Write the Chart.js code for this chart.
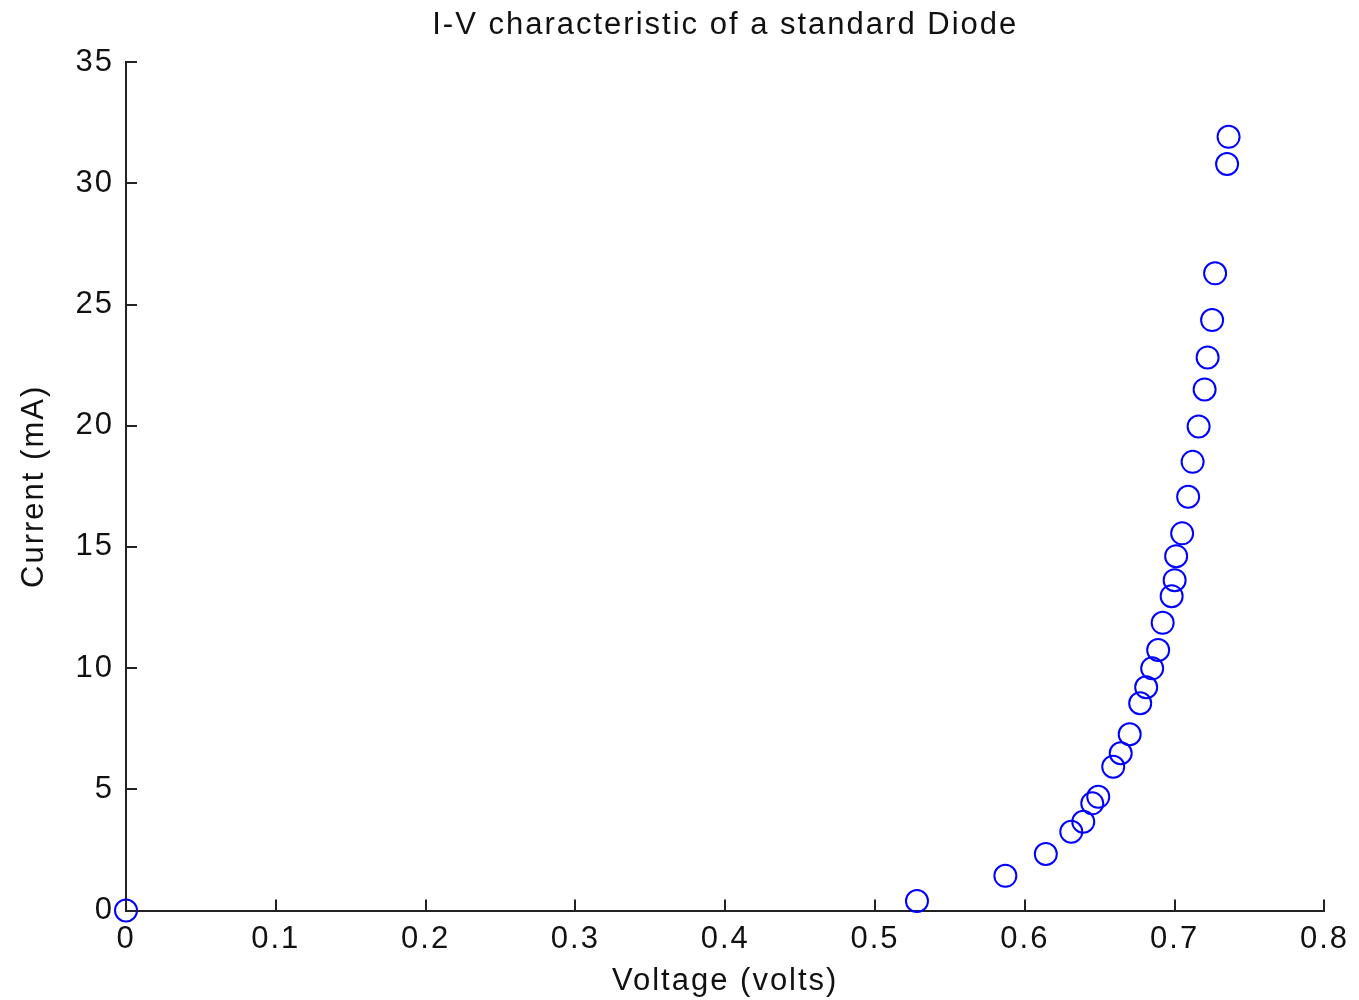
<!DOCTYPE html>
<html>
<head>
<meta charset="utf-8">
<script src="https://cdn.jsdelivr.net/npm/chart.js@4/dist/chart.umd.min.js"></script>
<style>
  html, body { margin: 0; padding: 0; background: #ffffff; }
  #wrap { width: 1359px; height: 1000px; }
</style>
</head>
<body>
<div id="wrap"><canvas id="c" width="1359" height="1000"></canvas></div>
<script>
// Measured diode forward voltage (V) and current (mA)
const voltage = [0, 0.528, 0.587, 0.614, 0.631, 0.639, 0.645, 0.649, 0.659, 0.664,
                 0.670, 0.677, 0.681, 0.685, 0.689, 0.692, 0.698, 0.700, 0.701, 0.705,
                 0.709, 0.712, 0.716, 0.720, 0.722, 0.725, 0.727, 0.735, 0.736];
const current = [0, 0.39, 1.43, 2.33, 3.25, 3.66, 4.42, 4.69, 5.93, 6.49,
                 7.27, 8.55, 9.21, 9.99, 10.75, 11.87, 12.97, 13.63, 14.62, 15.56,
                 17.07, 18.51, 19.97, 21.50, 22.82, 24.36, 26.29, 30.80, 31.92];
const xTicks = [0, 0.1, 0.2, 0.3, 0.4, 0.5, 0.6, 0.7, 0.8];
const yTicks = [0, 5, 10, 15, 20, 25, 30, 35];

const FONT = "'Liberation Sans', Arial, sans-serif";
const AXIS_COLOR = '#222222';
const TEXT_COLOR = '#111111';

// Slightly wider letter spacing for all canvas text
const spacing = {
  id: 'spacing',
  beforeUpdate(chart) { chart.ctx.letterSpacing = '2px'; },
  beforeDraw(chart) { chart.ctx.letterSpacing = '2px'; }
};

// Draws short tick marks pointing into the plot area
const inwardTicks = {
  id: 'inwardTicks',
  afterDraw(chart) {
    const ctx = chart.ctx;
    const xs = chart.scales.x, ys = chart.scales.y;
    const len = 11;
    ctx.save();
    ctx.strokeStyle = AXIS_COLOR;
    ctx.lineWidth = 2;
    ctx.beginPath();
    xTicks.forEach(v => {
      const px = Math.round(xs.getPixelForValue(v));
      ctx.moveTo(px, ys.bottom);
      ctx.lineTo(px, ys.bottom - len);
    });
    yTicks.forEach(v => {
      const py = Math.round(ys.getPixelForValue(v));
      ctx.moveTo(xs.left, py);
      ctx.lineTo(xs.left + len, py);
    });
    ctx.stroke();
    ctx.restore();
  }
};

const data = voltage.map((v, i) => ({ x: v, y: current[i] }));

new Chart(document.getElementById('c'), {
  type: 'scatter',
  data: {
    datasets: [{
      data: data,
      pointStyle: 'circle',
      pointRadius: 11,
      pointHoverRadius: 11,
      pointBorderWidth: 2,
      borderColor: '#0000ff',
      backgroundColor: 'rgba(0,0,0,0)',
      clip: false
    }]
  },
  options: {
    responsive: false,
    animation: false,
    layout: { padding: { top: 0, right: 33, bottom: 0, left: 0 } },
    plugins: {
      legend: { display: false },
      tooltip: { enabled: false },
      title: {
        display: true,
        fullSize: false,
        text: 'I-V characteristic of a standard Diode',
        color: TEXT_COLOR,
        font: { family: FONT, size: 31, weight: 'normal', lineHeight: 1.2 },
        padding: { top: 7, bottom: 18 }
      }
    },
    scales: {
      x: {
        type: 'linear',
        min: 0, max: 0.8,
        afterBuildTicks(scale) { scale.ticks = xTicks.map(v => ({ value: v })); },
        afterFit(scale) { scale.height = 89.5; },
        grid: { display: false, drawTicks: false },
        border: { display: true, color: AXIS_COLOR, width: 2 },
        ticks: {
          color: TEXT_COLOR,
          padding: 10,
          maxRotation: 0,
          font: { family: FONT, size: 31 },
          callback: v => String(v)
        },
        title: {
          display: true,
          text: 'Voltage (volts)',
          color: TEXT_COLOR,
          font: { family: FONT, size: 31 },
          padding: { top: 2, bottom: 0 }
        }
      },
      y: {
        type: 'linear',
        min: 0, max: 35,
        afterBuildTicks(scale) { scale.ticks = yTicks.map(v => ({ value: v })); },
        afterFit(scale) { scale.width = 126; },
        grid: { display: false, drawTicks: false },
        border: { display: true, color: AXIS_COLOR, width: 2 },
        ticks: {
          color: TEXT_COLOR,
          padding: 12,
          font: { family: FONT, size: 31 },
          callback: v => String(v)
        },
        title: {
          display: true,
          text: 'Current (mA)',
          color: TEXT_COLOR,
          font: { family: FONT, size: 31 },
          padding: { top: 16, bottom: 4 }
        }
      }
    }
  },
  plugins: [spacing, inwardTicks]
});
</script>
</body>
</html>
